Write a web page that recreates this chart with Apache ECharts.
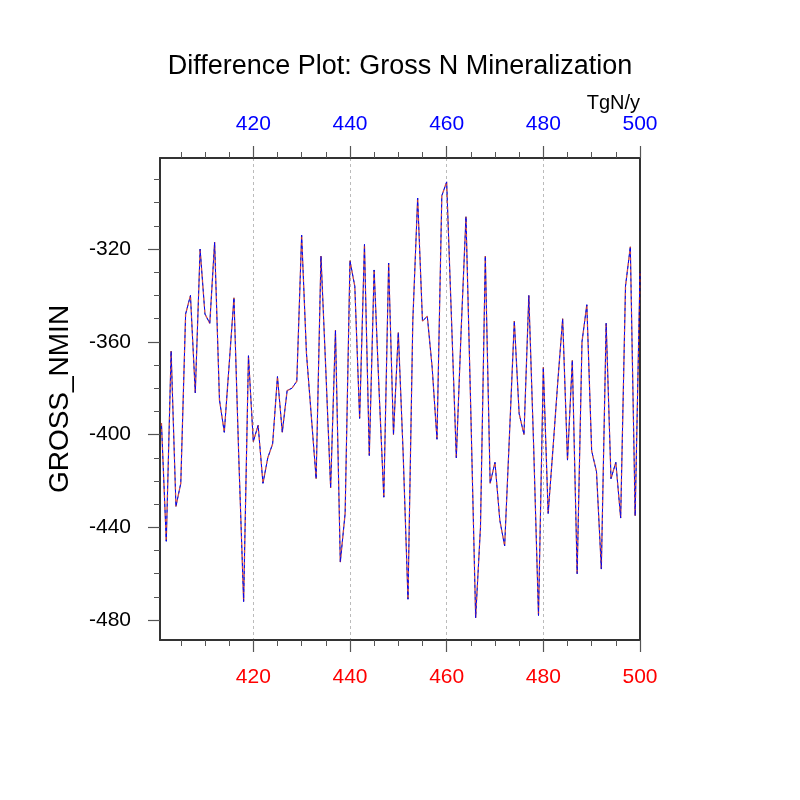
<!DOCTYPE html>
<html>
<head>
    <meta charset="utf-8"/>
    <title>Difference Plot: Gross N Mineralization</title>
    <script src="https://cdn.jsdelivr.net/npm/echarts@6/dist/echarts.min.js"></script>
    <style>
        html, body { margin: 0; padding: 0; background: #fff; }
    </style>
</head>
<body>
    <div id="myChart" style="width: 800px; height: 800px;"></div>
<script type="text/javascript">
    // years on the x axis (401 .. 500)
    var years = [];
    for (var y = 401; y <= 500; y++) { years.push(y); }

    // GROSS_NMIN values, one per year
    var nmin = [
        -395, -446, -364, -431, -421, -348, -340, -382, -320, -348,
        -352, -317, -385, -399, -370, -341, -410, -472, -366, -403,
        -396, -421, -410, -404, -375, -399, -381, -380, -377, -314,
        -365, -392, -419, -323, -372, -423, -355, -455, -434, -325,
        -336, -393, -318, -409, -329, -380, -427, -326, -400, -356,
        -408, -471, -351, -298, -351, -349, -371, -402, -297, -291,
        -350, -410, -355, -306, -390, -479, -440, -323, -421, -412,
        -437, -448, -400, -351, -391, -400, -340, -405, -478, -371,
        -434, -406, -377, -350, -411, -368, -460, -360, -344, -407,
        -416, -458, -352, -419, -412, -436, -336, -319, -435, -330
    ];

    // tick labels
    var xMajor = [420, 440, 460, 480, 500];
    var xMinor = [405, 410, 415, 425, 430, 435, 445, 450, 455, 465, 470, 475, 485, 490, 495];
    var yMajor = [-480, -440, -400, -360, -320];
    var yMinor = [-470, -460, -450, -430, -420, -410, -390, -380, -370, -350, -340, -330, -310, -300, -290];

    var xMin = 400.7, xMax = 500;
    var yMin = -488.6, yMax = -280.7;

    var pairs = years.map(function (yr, i) { return [yr, nmin[i]]; });

    var font = 'Liberation Sans, Arial, Helvetica, sans-serif';
    var axisColor = '#333';

    var xAxisBase = function (pos, opts) {
        var a = {
            type: 'value',
            position: pos,
            min: xMin,
            max: xMax,
            axisLine: { show: false },
            axisTick: { show: false },
            axisLabel: { show: false },
            splitLine: { show: false }
        };
        for (var k in opts) { a[k] = opts[k]; }
        return a;
    };
    var yAxisBase = function (pos, opts) {
        var a = {
            type: 'value',
            position: pos,
            min: yMin,
            max: yMax,
            axisLine: { show: false },
            axisTick: { show: false },
            axisLabel: { show: false },
            splitLine: { show: false }
        };
        for (var k in opts) { a[k] = opts[k]; }
        return a;
    };

    var myChart = echarts.init(document.getElementById('myChart'));
    var option = {
        animation: false,
        backgroundColor: '#fff',
        title: {
            text: 'Difference Plot: Gross N Mineralization',
            left: 'center',
            top: 48,
            textStyle: { fontFamily: font, fontSize: 27, fontWeight: 'normal', color: '#000' }
        },
        graphic: [{
            type: 'text',
            right: 160,
            top: 93,
            style: { text: 'TgN/y', fontFamily: font, fontSize: 20, fill: '#000' }
        }],
        grid: { left: 160, right: 160, top: 158, bottom: 160 },
        xAxis: [
            xAxisBase('bottom', {
                axisLine: { show: true, onZero: false, lineStyle: { color: axisColor, width: 2 } },
                axisTick: { show: true, customValues: xMajor, length: 12, lineStyle: { color: '#555', width: 1.2 } },
                axisLabel: { show: true, customValues: xMajor, margin: 27, color: '#f00', fontFamily: font, fontSize: 21 },
                splitLine: { show: true, lineStyle: { color: '#bbb', type: [3, 3], width: 1 } }
            }),
            xAxisBase('bottom', {
                axisTick: { show: true, customValues: xMinor, length: 6, lineStyle: { color: '#555', width: 1 } }
            }),
            xAxisBase('top', {
                axisLine: { show: true, onZero: false, lineStyle: { color: axisColor, width: 2 } },
                axisTick: { show: true, customValues: xMajor, length: 12, lineStyle: { color: '#555', width: 1.2 } },
                axisLabel: { show: true, customValues: xMajor, margin: 23, color: '#00f', fontFamily: font, fontSize: 21 }
            }),
            xAxisBase('top', {
                axisTick: { show: true, customValues: xMinor, length: 6, lineStyle: { color: '#555', width: 1 } }
            })
        ],
        yAxis: [
            yAxisBase('left', {
                name: 'GROSS_NMIN',
                nameLocation: 'middle',
                nameGap: 86,
                nameTextStyle: { fontFamily: font, fontSize: 28, color: '#000' },
                axisLine: { show: true, onZero: false, lineStyle: { color: axisColor, width: 2 } },
                axisTick: { show: true, customValues: yMajor, length: 12, lineStyle: { color: '#555', width: 1.2 } },
                axisLabel: { show: true, customValues: yMajor, margin: 29, color: '#000', fontFamily: font, fontSize: 21 }
            }),
            yAxisBase('left', {
                axisTick: { show: true, customValues: yMinor, length: 6, lineStyle: { color: '#555', width: 1 } }
            }),
            yAxisBase('right', {
                axisLine: { show: true, onZero: false, lineStyle: { color: axisColor, width: 2 } }
            })
        ],
        series: [
            {
                name: 'diff',
                type: 'line',
                xAxisIndex: 0,
                yAxisIndex: 0,
                data: pairs,
                symbol: 'none',
                lineStyle: { color: '#000', width: 0.6 },
                z: 2
            },
            {
                name: 'case1',
                type: 'line',
                xAxisIndex: 0,
                yAxisIndex: 0,
                data: pairs,
                symbol: 'none',
                lineStyle: { color: '#f33', width: 1.4, type: [3, 3], opacity: 0.6 },
                z: 3
            },
            {
                name: 'case2',
                type: 'line',
                xAxisIndex: 2,
                yAxisIndex: 0,
                data: pairs,
                symbol: 'none',
                lineStyle: { color: '#00f', width: 1, type: [3, 3], dashOffset: 3 },
                z: 4
            }
        ]
    };
    myChart.setOption(option);
</script>
</body>
</html>
